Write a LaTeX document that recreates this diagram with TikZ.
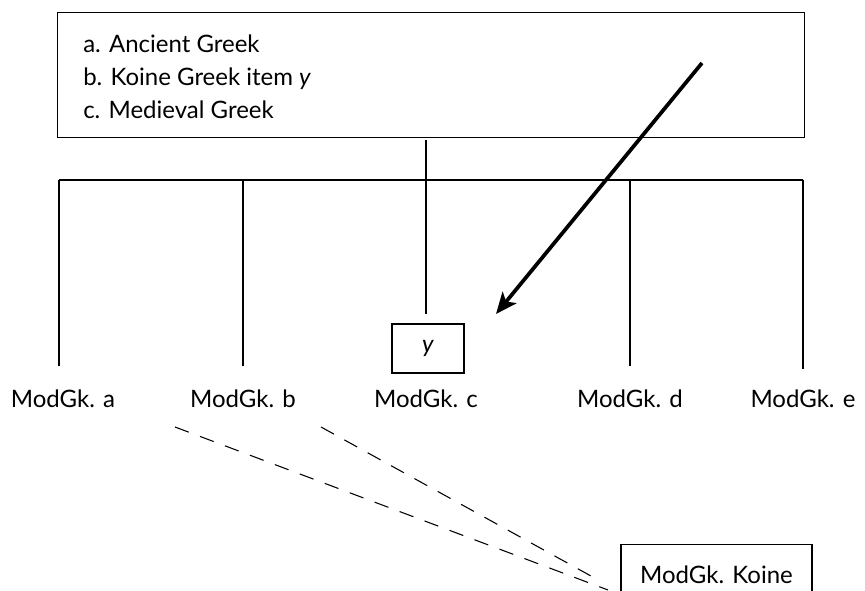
\documentclass[tikz,border=0pt]{standalone}
\usepackage{fontspec}
\setmainfont{Lato}
\usetikzlibrary{arrows.meta}

\tikzset{
  framebox/.style={draw, line width=0.9pt, rectangle, inner sep=0pt},
  twig/.style={line width=1.3pt},
  crossbar/.style={line width=0.9pt},
  leaf/.style={anchor=base, inner sep=0.75pt, font=\fontsize{18}{22}\selectfont},
  pointer/.style={line width=2.8pt, -{Stealth[length=16pt,width=13.5pt,inset=4pt]}},
  merge/.style={line width=0.8pt, dash pattern=on 11pt off 9pt},
}

\begin{document}
\begin{tikzpicture}[x=0.75pt,y=0.75pt,yscale=-1,xscale=1]
\useasboundingbox (0,0) rectangle (865,591);
\clip (0,0) rectangle (865,591);

% source box with the three stages
\node [framebox, anchor=north west, minimum width=560.25pt, minimum height=93.75pt] (stages) at (57,12) {};
\node [anchor=base west, align=left, inner sep=0pt, font=\fontsize{18}{25}\selectfont] (stagelist) at (83,119)
  {a. Ancient Greek\\ b. Koine Greek item \textit{y}\\ c. Medieval Greek};

% fork
\coordinate (forkl) at (59,180);
\coordinate (forkr) at (803,180);
\draw [crossbar] (forkl) -- (forkr);

\coordinate (ja) at (59,180);   \coordinate (ea) at (59,366);
\coordinate (jb) at (243,180);  \coordinate (eb) at (243,366);
\coordinate (jd) at (630,180);  \coordinate (ed) at (630,366);
\coordinate (je) at (803,180);  \coordinate (ee) at (803,369);
\coordinate (jc) at (426,140);  \coordinate (ec) at (426,314);

\draw [twig] (ja) -- (ea);
\draw [twig] (jb) -- (eb);
\draw [twig] (jd) -- (ed);
\draw [twig] (je) -- (ee);
\draw [twig] (jc) -- (ec);

% the item y
\node [framebox, minimum width=54pt, minimum height=36.75pt, font=\fontsize{18}{22}\selectfont] (item) at (428,348.5) {\textit{y}};

% modern dialects
\node [leaf] (moda) at (63,408) {ModGk. a};
\node [leaf] (modb) at (243,408) {ModGk. b};
\node [leaf] (modc) at (426,408) {ModGk. c};
\node [leaf] (modd) at (630,408) {ModGk. d};
\node [leaf] (mode) at (803,408) {ModGk. e};

\node [framebox, anchor=north, minimum width=143.25pt, minimum height=45pt, font=\fontsize{18}{22}\selectfont] (koine) at (716.5,544) {ModGk. Koine};

% arrow into the item
\coordinate (tail) at (702,63);
\coordinate (head) at (496,314);
\draw [pointer] (tail) -- (head);

% dashed links to Koine
\coordinate (db) at (175,427);
\coordinate (dc) at (321,427);
\coordinate (kb) at (608,590);
\coordinate (kc) at (600,581);
\draw [merge] (db) -- (kb);
\draw [merge] (dc) -- (kc);

\end{tikzpicture}
\end{document}
